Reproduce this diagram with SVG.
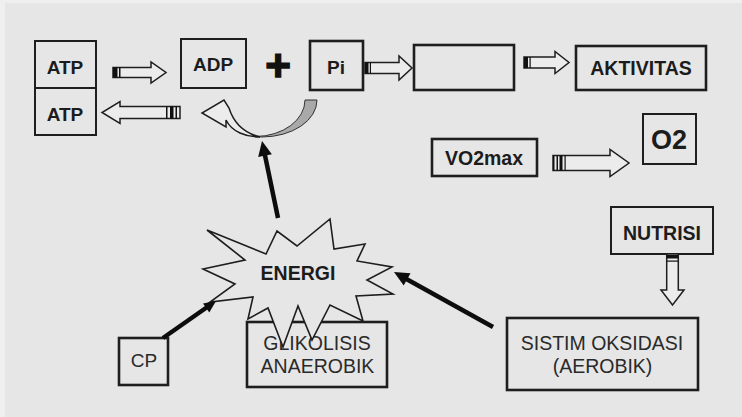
<svg xmlns="http://www.w3.org/2000/svg" width="742" height="417" viewBox="0 0 742 417">
<style>
.bx{fill:none;stroke:#1e1e1e;stroke-width:2}
.bx2{fill:none;stroke:#1e1e1e;stroke-width:2.6}
.tb{font-family:"Liberation Sans",Arial,sans-serif;font-weight:bold;font-size:19px;fill:#1c1c1c;text-anchor:middle}
.tr{font-family:"Liberation Sans",Arial,sans-serif;font-size:19.5px;fill:#2a2a2a;text-anchor:middle}
.ha{fill:#ececec;stroke:#1e1e1e;stroke-width:1.5;stroke-linejoin:miter}
.st{fill:#111}
.bl{stroke:#0d0d0d;stroke-width:4.5;fill:none}
.hd{fill:#0d0d0d}
</style>
<rect x="0" y="0" width="742" height="417" fill="#efefef"/>
<rect x="5" y="3" width="737" height="414" fill="#e6e6e6"/>

<g id="atp">
<rect class="bx" x="35" y="41" width="61" height="94"/>
<line x1="35" y1="88" x2="96" y2="88" stroke="#1e1e1e" stroke-width="2"/>
<text class="tb" x="65" y="74">ATP</text>
<text class="tb" x="65" y="121">ATP</text>
</g>
<g id="adp">
<rect class="bx" x="181" y="39" width="65" height="49"/>
<text class="tb" x="213" y="70.5">ADP</text>
</g>
<g id="plus">
<text x="278" y="81" font-family="'Liberation Sans',Arial,sans-serif" font-weight="bold" font-size="44" fill="#111" stroke="#111" stroke-width="1.5" text-anchor="middle">+</text>
</g>
<g id="pi">
<rect class="bx2" x="310" y="41" width="53" height="49"/>
<text class="tb" x="336" y="74">Pi</text>
</g>
<g id="empty">
<rect class="bx2" x="414" y="45" width="100" height="45"/>
</g>
<g id="aktivitas">
<rect class="bx2" x="576" y="46" width="130" height="44"/>
<text class="tb" x="641" y="75" style="font-size:19.5px">AKTIVITAS</text>
</g>
<g id="vo2max">
<rect class="bx2" x="432" y="139" width="105" height="37"/>
<text class="tb" x="484" y="164.5" style="font-size:19.5px">VO2max</text>
</g>
<g id="o2">
<rect class="bx" x="643" y="114" width="53" height="50"/>
<text class="tb" x="669" y="149" style="font-size:27px">O2</text>
</g>
<g id="nutrisi">
<rect class="bx" x="611" y="207" width="102" height="47"/>
<text class="tb" x="662" y="239.5" style="font-size:19.5px">NUTRISI</text>
</g>
<g id="sistim">
<rect class="bx2" x="507" y="318" width="191" height="72"/>
<text class="tr" x="602" y="350">SISTIM OKSIDASI</text>
<text class="tr" x="602.5" y="373">(AEROBIK)</text>
</g>
<g id="glikolisis">
<rect class="bx2" x="247" y="322" width="140" height="65"/>
<text class="tr" x="317" y="350">GLIKOLISIS</text>
<text class="tr" x="317.5" y="373">ANAEROBIK</text>
</g>
<g id="cp">
<rect class="bx2" x="119" y="338" width="49" height="47"/>
<text class="tr" x="144" y="367" style="font-size:19px">CP</text>
</g>
<g id="energi">
<polygon points="207,230 266,254 277,231 297,246 330,219 334,249 365,244 357,261 392,267 367,280 393,294 356,296 363,321 330,305 312,340 298,306 283,347 268,308 248,319 253,297 210,302 235,284 203,269 245,260" fill="#e6e6e6" stroke="#1e1e1e" stroke-width="1.6" stroke-linejoin="miter"/>
<text class="tb" x="298" y="280" style="font-size:19.5px">ENERGI</text>
</g>
<g id="cycle">
<path d="M305 100 L317 100 A55 37 0 0 1 262 137 L256 136.5 A50 36.5 0 0 0 305 100 Z" fill="#a9a9a9" stroke="#333" stroke-width="1"/>
<path d="M260 137 C244 133 234 124 229 108 L224 100 L202 113 L226 127 L226 120 C232 132 246 137 260 137 Z" fill="#ececec" stroke="#1e1e1e" stroke-width="1.5" stroke-linejoin="miter"/>
</g>

<g id="connectors">
<path class="ha" d="M113 67.5 H151 V62 L166 72.5 L151 83 V77.5 H113 Z"/>
<rect class="st" x="113" y="67.5" width="4.5" height="10"/>
<rect class="st" x="119" y="67.5" width="1.5" height="10"/>

<path class="ha" d="M180 106.5 H120 V101.5 L102 112.5 L120 123.5 V118.5 H180 Z"/>
<rect class="st" x="166" y="106.5" width="1.5" height="12"/>
<rect class="st" x="170" y="106.5" width="3.5" height="12"/>
<rect class="st" x="175.5" y="106.5" width="1.5" height="12"/>

<path class="ha" d="M365 62.5 H399 V56 L412 68 L399 80 V73.5 H365 Z"/>
<rect class="st" x="365" y="62.5" width="3.5" height="11"/>
<rect class="st" x="369.8" y="62.5" width="1.2" height="11"/>

<path class="ha" d="M524 57 H555 V51.5 L569 62.5 L555 73.5 V68 H524 Z"/>
<rect class="st" x="524" y="57" width="4" height="11"/>
<rect class="st" x="529.5" y="57" width="1.2" height="11"/>

<path class="ha" d="M553 155.5 H610 V149.5 L629 163 L610 176.5 V170.5 H553 Z"/>
<rect class="st" x="553" y="155.5" width="1.5" height="15"/>
<rect class="st" x="556.5" y="155.5" width="1.5" height="15"/>
<rect class="st" x="559.5" y="155.5" width="3" height="15"/>
<rect class="st" x="564.5" y="155.5" width="1.2" height="15"/>

<path class="ha" d="M666.7 254 V290 H661 L672.5 305 L684 290 H678.3 V254 Z"/>
<rect class="st" x="666.7" y="255" width="11.6" height="3.5"/>
<rect class="st" x="666.7" y="260.5" width="11.6" height="1.2"/>

<line class="bl" x1="278" y1="218" x2="264.5" y2="153"/>
<polygon class="hd" points="262,141 271.9,154.3 258.2,157.1"/>

<line class="bl" x1="163" y1="338" x2="208" y2="306.5" stroke-width="4"/>
<polygon class="hd" points="216,301 209.3,312.4 203,303.4"/>

<line class="bl" x1="493" y1="327" x2="405" y2="278.2" stroke-width="4"/>
<polygon class="hd" points="394,272 410.5,273.2 403.7,285.4"/>
</g>
</svg>
